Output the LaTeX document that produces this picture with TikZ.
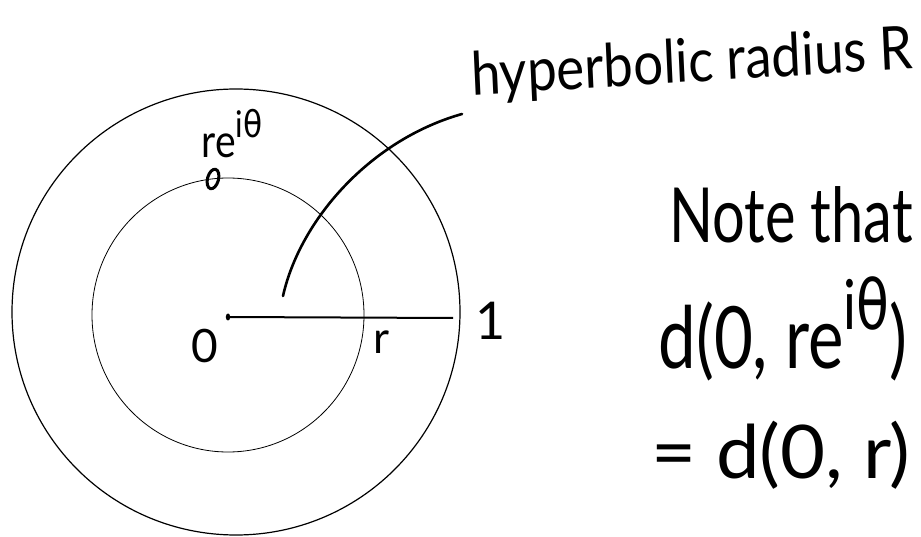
\documentclass[tikz,border=0pt]{standalone}
\usepackage{fontspec}
\usetikzlibrary{shapes.geometric}
\setmainfont{Lato}
\newfontfamily\dvfont{DejaVu Sans}
\newcommand{\supit}{\raisebox{0.45em}{\scalebox{0.8}{i{\dvfont θ}}}}
\begin{document}
\begin{tikzpicture}[x=1pt,y=-1pt,
  lbl/.style={inner sep=0pt,anchor=base},
  thincirc/.style={draw=black,line width=0.8pt},
  outcirc/.style={draw=black,line width=1.2pt},
  radline/.style={draw=black,line width=2pt},
  marker/.style={draw=black,line width=3pt},
  pointer/.style={draw=black,line width=2.6pt,line cap=round}]
\useasboundingbox (0,0) rectangle (921,537);
% circles
\coordinate (O) at (228,317);
\draw[outcirc] (236,312) ellipse (224 and 223);
\draw[thincirc] (228,315) ellipse (136 and 137);
% center dot and radius
\fill (O) ellipse (2.2 and 3.5);
\coordinate (one) at (453,318);
\draw[radline] (O) -- (one);
% point marker on inner circle
\coordinate (pt) at (213,179);
\draw[marker,rotate around={-15:(pt)}] (pt) ellipse (5.5 and 10);
% pointer curve
\coordinate (ps) at (283,296);
\coordinate (pe) at (462,114);
\draw[pointer] (ps) .. controls (300,220) and (370,140) .. (pe);
% labels
\node[lbl,font=\fontsize{46}{50}\selectfont,xscale=0.85] (reit) at (232,158) {re\supit};
\node[lbl,font=\fontsize{46}{50}\selectfont] (zero) at (205,362) {0};
\node[lbl,font=\fontsize{44}{50}\selectfont] (rl) at (382,353) {r};
\node[lbl,font=\fontsize{52}{56}\selectfont] (onel) at (491,340) {1};
\node[lbl,font=\fontsize{60}{64}\selectfont,xscale=0.88,rotate=3] (hyp) at (693,82) {hyperbolic radius R};
\node[lbl,font=\fontsize{76}{80}\selectfont,xscale=0.76] (note) at (791,243) {Note that};
\node[lbl,font=\fontsize{86}{90}\selectfont,xscale=0.78] (d1) at (783,368) {d(0, re\supit)};
\node[lbl,font=\fontsize{74}{80}\selectfont,xscale=1.05] (d2) at (781,478) {= d(0, r)};
\end{tikzpicture}
\end{document}
